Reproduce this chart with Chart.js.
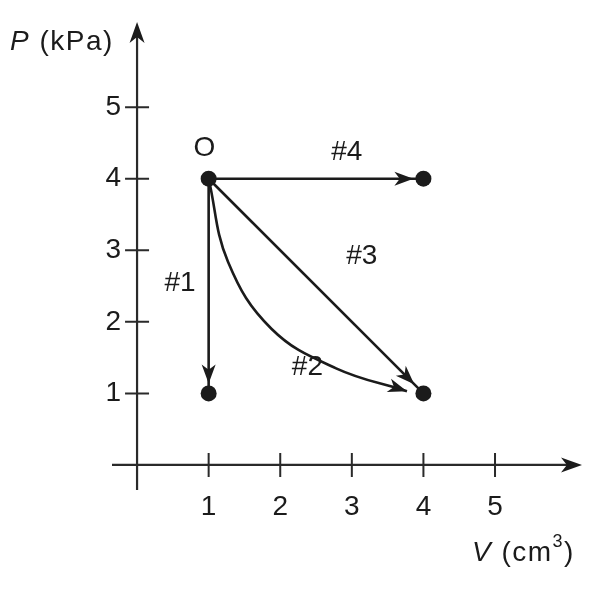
<!DOCTYPE html>
<html>
<head>
<meta charset="utf-8">
<script src="https://cdn.jsdelivr.net/npm/chart.js@4.4.0/dist/chart.umd.min.js"></script>
<style>
  html, body { margin: 0; padding: 0; background: #fff; }
  #wrap { width: 606px; height: 589px; }
</style>
</head>
<body>
<div id="wrap"><canvas id="pv" width="606" height="589"></canvas></div>
<script>
// axis ticks
const xTicks = [1, 2, 3, 4, 5];
const yTicks = [1, 2, 3, 4, 5];

// states (V in cm3, P in kPa)
const states = [{ x: 1, y: 4 }, { x: 4, y: 4 }, { x: 1, y: 1 }, { x: 4, y: 1 }];

// the four processes starting from O
const path1 = [{ x: 1, y: 4 }, { x: 1, y: 1 }];
const path2 = [
    { x: 1, y: 4 }, { x: 1.27, y: 2.84 }, { x: 1.88, y: 1.9 },
    { x: 2.78, y: 1.35 }, { x: 3.77, y: 1.03 }
];
const path3 = [{ x: 1, y: 4 }, { x: 4, y: 1 }];
const path4 = [{ x: 1, y: 4 }, { x: 4, y: 4 }];

// text labels placed in data units
const pathLabels = ['O', '#4', '#3', '#1', '#2'];
const labelX = [0.94, 2.93, 3.14, 0.6, 2.38];
const labelY = [4.43, 4.37, 2.92, 2.54, 1.37];

const ink = '#1b1b1b';
const font = '"Liberation Sans", Arial, sans-serif';

function arrowHead(ctx, tx, ty, ang, len, half) {
    const cos = Math.cos(ang), sin = Math.sin(ang);
    const pt = (a, b) => [tx - a * cos + b * sin, ty - a * sin - b * cos];
    const l = pt(len, half), r = pt(len, -half), n = pt(len * 0.72, 0);
    ctx.beginPath();
    ctx.moveTo(tx, ty);
    ctx.lineTo(l[0], l[1]);
    ctx.lineTo(n[0], n[1]);
    ctx.lineTo(r[0], r[1]);
    ctx.closePath();
    ctx.fill();
}

// text with a spaced look, like the scanned figure
function spaced(ctx, txt, x, y, sp) {
    for (const ch of txt) {
        ctx.fillText(ch, x, y);
        x += ctx.measureText(ch).width + sp;
    }
    return x;
}

// axes, ticks and tick labels
const axesPlugin = {
    id: 'axes',
    beforeDatasetsDraw(chart) {
        const ctx = chart.ctx;
        const xs = chart.scales.x, ys = chart.scales.y;
        const area = chart.chartArea;
        const x0 = xs.getPixelForValue(0), y0 = ys.getPixelForValue(0);
        ctx.save();
        ctx.strokeStyle = '#2a2a2a';
        ctx.fillStyle = ink;
        ctx.lineWidth = 2.2;
        ctx.beginPath();
        ctx.moveTo(area.left, y0);
        ctx.lineTo(area.right - 8, y0);
        ctx.moveTo(x0, area.bottom);
        ctx.lineTo(x0, area.top + 8);
        ctx.stroke();
        arrowHead(ctx, area.right, y0, 0, 21, 7.5);
        arrowHead(ctx, x0, area.top, -Math.PI / 2, 21, 7.5);

        ctx.lineWidth = 2;
        ctx.beginPath();
        xTicks.forEach(v => {
            const px = xs.getPixelForValue(v);
            ctx.moveTo(px, y0 - 12);
            ctx.lineTo(px, y0 + 12);
        });
        yTicks.forEach(v => {
            const py = ys.getPixelForValue(v);
            ctx.moveTo(x0 - 12, py);
            ctx.lineTo(x0 + 12, py);
        });
        ctx.stroke();

        ctx.font = '28px ' + font;
        ctx.textBaseline = 'middle';
        ctx.textAlign = 'center';
        xTicks.forEach(v => ctx.fillText(String(v), xs.getPixelForValue(v), y0 + 42));
        ctx.textAlign = 'right';
        yTicks.forEach(v => ctx.fillText(String(v), x0 - 16, ys.getPixelForValue(v)));

        // axis titles
        ctx.textAlign = 'left';
        ctx.font = 'italic 28px ' + font;
        let x = spaced(ctx, 'P', 10, 42, 1.5);
        ctx.font = '28px ' + font;
        spaced(ctx, ' (kPa)', x, 42, 1.5);

        ctx.font = 'italic 28px ' + font;
        x = spaced(ctx, 'V', 472, 553, 1.5);
        ctx.font = '28px ' + font;
        x = spaced(ctx, ' (cm', x, 553, 1.5);
        ctx.font = '18px ' + font;
        x = spaced(ctx, '3', x, 542, 1.5);
        ctx.font = '28px ' + font;
        spaced(ctx, ')', x, 553, 1.5);
        ctx.restore();
    },
    afterDatasetsDraw(chart) {
        const ctx = chart.ctx;
        const xs = chart.scales.x, ys = chart.scales.y;
        ctx.save();
        ctx.fillStyle = ink;
        // arrowheads at the end of each process
        chart.data.datasets.forEach((ds, i) => {
            if (ds.arrowGap === undefined) return;
            const pts = chart.getDatasetMeta(i).data;
            const end = pts[pts.length - 1];
            let bx = pts[pts.length - 2].x, by = pts[pts.length - 2].y;
            if (end.cp1x !== undefined && Math.hypot(end.x - end.cp1x, end.y - end.cp1y) > 1) {
                bx = end.cp1x; by = end.cp1y;
            }
            const ang = Math.atan2(end.y - by, end.x - bx);
            const tx = end.x - Math.cos(ang) * ds.arrowGap;
            const ty = end.y - Math.sin(ang) * ds.arrowGap;
            arrowHead(ctx, tx, ty, ang, 19, 7);
        });
        ctx.font = '28px ' + font;
        ctx.textAlign = 'center';
        ctx.textBaseline = 'middle';
        pathLabels.forEach((t, i) => {
            ctx.fillText(t, xs.getPixelForValue(labelX[i]), ys.getPixelForValue(labelY[i]));
        });
        ctx.restore();
    }
};

const lineStyle = {
    showLine: true,
    pointRadius: 0,
    borderColor: ink,
    borderWidth: 2.6,
    fill: false
};

new Chart(document.getElementById('pv'), {
    type: 'scatter',
    data: {
        datasets: [
            { data: states, pointRadius: 8, pointBackgroundColor: ink, pointBorderWidth: 0, showLine: false },
            { ...lineStyle, data: path1, arrowGap: 10 },
            { ...lineStyle, data: path2, arrowGap: 0, tension: 0.4 },
            { ...lineStyle, data: path3, arrowGap: 13 },
            { ...lineStyle, data: path4, arrowGap: 10 }
        ]
    },
    options: {
        responsive: false,
        animation: false,
        layout: { padding: { left: 112, right: 24, top: 22, bottom: 99 } },
        scales: {
            x: { type: 'linear', min: -0.35, max: 6.215, display: false },
            y: { type: 'linear', min: -0.35, max: 6.19, display: false }
        },
        plugins: { legend: { display: false }, tooltip: { enabled: false } }
    },
    plugins: [axesPlugin]
});
</script>
</body>
</html>
